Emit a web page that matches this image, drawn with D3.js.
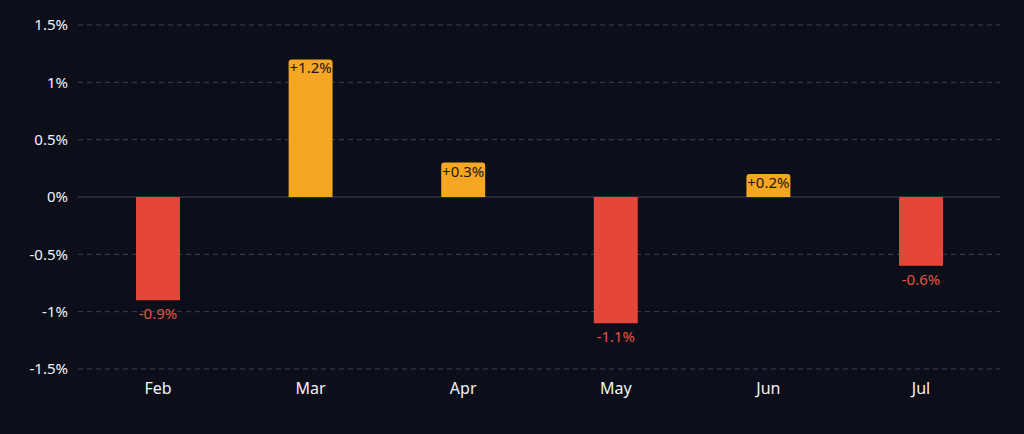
<!DOCTYPE html><html><head><meta charset="utf-8">
<script src="https://cdn.jsdelivr.net/npm/d3@7"></script>
<style>body{margin:0;background:#0c0f1a}svg{display:block}</style></head><body>
<svg id="c" width="1024" height="434"></svg>
<script>
const months=["Feb","Mar","Apr","May","Jun","Jul"];
const changes=[-0.9,1.2,0.3,-1.1,0.2,-0.6];
const yTicks=[-1.5,-1,-0.5,0,0.5,1,1.5];
const svg=d3.select("#c");
const m={l:78,r:1000,t:25,b:369};
const x=d3.scaleBand().domain(months).range([81.7,997.3]).paddingInner(0.712).paddingOuter(0.356);
const y=d3.scaleLinear().domain([-1.5,1.5]).range([m.b,m.t]);
const fmt=v=>(v===0?"0":String(v).replace("\u2212","-"))+"%";
svg.append("g").selectAll("line").data(yTicks).join("line")
 .attr("x1",m.l).attr("x2",m.r).attr("y1",d=>y(d)).attr("y2",d=>y(d))
 .attr("stroke",d=>d===0?"#3d4660":"#3a4257").attr("stroke-width",1)
 .attr("stroke-dasharray",d=>d===0?null:"5,4");
svg.append("g").selectAll("text").data(yTicks).join("text")
 .attr("x",68).attr("y",d=>y(d)).attr("dy","0.35em").attr("text-anchor","end")
 .attr("fill","#f2f3f6").attr("font-family","Noto Sans").attr("font-size",15).text(fmt);
svg.append("g").selectAll("text").data(months).join("text")
 .attr("x",d=>x(d)+x.bandwidth()/2).attr("y",394).attr("text-anchor","middle")
 .attr("fill","#f2f3f6").attr("font-family","Noto Sans").attr("font-size",16).text(d=>d);
const data=months.map((k,i)=>({k,v:changes[i]}));
const g=svg.append("g");
data.forEach(d=>{
 const x0=x(d.k),w=x.bandwidth(),y0=y(0),y1=y(d.v),r=3;
 let p;
 if(d.v>0){p=`M${x0},${y0}V${y1+r}Q${x0},${y1} ${x0+r},${y1}H${x0+w-r}Q${x0+w},${y1} ${x0+w},${y1+r}V${y0}Z`;}
 else{p=`M${x0},${y0}V${y1}H${x0+w}V${y0}Z`;}
 g.append("path").attr("d",p).attr("fill",d.v>0?"#f5a623":"#e5463a");
 g.append("text").attr("x",x0+w/2).attr("y",d.v>0?y1+14:y1+19).attr("text-anchor","middle")
  .attr("font-family","Noto Sans").attr("font-size",15)
  .attr("fill",d.v>0?"#1a1a1a":"#e5533f").text((d.v>0?"+":"")+d.v.toFixed(1)+"%");
});
</script></body></html>
